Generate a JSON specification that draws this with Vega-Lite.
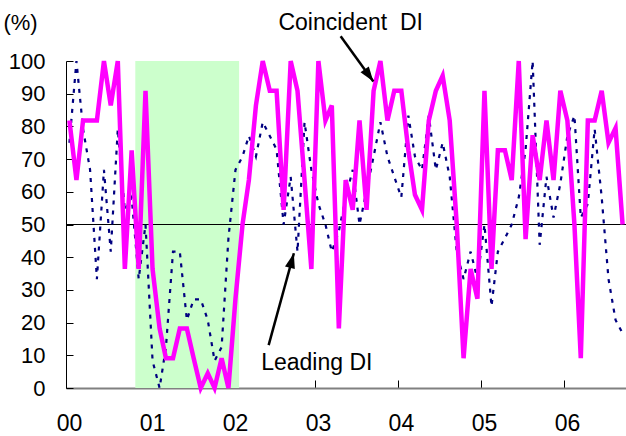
{
  "$schema": "https://vega.github.io/schema/vega-lite/v6.json",
  "width": 560,
  "height": 327,
  "autosize": {"type": "none"},
  "padding": {"left": 66, "top": 61, "right": 0, "bottom": 48},
  "background": "white",
  "config": {
    "view": {"stroke": null},
    "font": "Liberation Sans",
    "axis": {"labelFont": "Liberation Sans", "titleFont": "Liberation Sans", "grid": false}
  },
  "datasets": {
    "recession": [{"start": "2000-11-01", "end": "2002-02-01"}],
    "reference": [{"level": 50}],
    "di": [
      {"month": "2000-01-16", "coincident": 81.8, "leading": 75},
      {"month": "2000-02-16", "coincident": 63.6, "leading": 100},
      {"month": "2000-03-16", "coincident": 81.8, "leading": 79.2},
      {"month": "2000-04-16", "coincident": 81.8, "leading": 66.7},
      {"month": "2000-05-16", "coincident": 81.8, "leading": 33.3},
      {"month": "2000-06-16", "coincident": 100, "leading": 66.7},
      {"month": "2000-07-16", "coincident": 86.4, "leading": 41.7},
      {"month": "2000-08-16", "coincident": 100, "leading": 79.2},
      {"month": "2000-09-16", "coincident": 36.4, "leading": 54.2},
      {"month": "2000-10-16", "coincident": 72.7, "leading": 58.3},
      {"month": "2000-11-16", "coincident": 36.4, "leading": 33.3},
      {"month": "2000-12-16", "coincident": 90.9, "leading": 50},
      {"month": "2001-01-16", "coincident": 36.4, "leading": 8.3},
      {"month": "2001-02-16", "coincident": 18.2, "leading": 0},
      {"month": "2001-03-16", "coincident": 9.1, "leading": 12.5},
      {"month": "2001-04-16", "coincident": 9.1, "leading": 41.7},
      {"month": "2001-05-16", "coincident": 18.2, "leading": 41.7},
      {"month": "2001-06-16", "coincident": 18.2, "leading": 20.8},
      {"month": "2001-07-16", "coincident": 9.1, "leading": 27.1},
      {"month": "2001-08-16", "coincident": 0, "leading": 27.1},
      {"month": "2001-09-16", "coincident": 4.5, "leading": 20.8},
      {"month": "2001-10-16", "coincident": 0, "leading": 8.3},
      {"month": "2001-11-16", "coincident": 9.1, "leading": 12.5},
      {"month": "2001-12-16", "coincident": 0, "leading": 45.8},
      {"month": "2002-01-16", "coincident": 27.3, "leading": 66.7},
      {"month": "2002-02-16", "coincident": 50, "leading": 70.8},
      {"month": "2002-03-16", "coincident": 63.6, "leading": 77.1},
      {"month": "2002-04-16", "coincident": 86.4, "leading": 70.8},
      {"month": "2002-05-16", "coincident": 100, "leading": 81.3},
      {"month": "2002-06-16", "coincident": 90.9, "leading": 77.1},
      {"month": "2002-07-16", "coincident": 90.9, "leading": 72.9},
      {"month": "2002-08-16", "coincident": 54.5, "leading": 50},
      {"month": "2002-09-16", "coincident": 100, "leading": 64.6},
      {"month": "2002-10-16", "coincident": 90.9, "leading": 41.7},
      {"month": "2002-11-16", "coincident": 63.6, "leading": 81.3},
      {"month": "2002-12-16", "coincident": 36.4, "leading": 66.7},
      {"month": "2003-01-16", "coincident": 100, "leading": 56.3},
      {"month": "2003-02-16", "coincident": 81.8, "leading": 50},
      {"month": "2003-03-16", "coincident": 86.4, "leading": 41.7},
      {"month": "2003-04-16", "coincident": 18.2, "leading": 47.9},
      {"month": "2003-05-16", "coincident": 63.6, "leading": 58.3},
      {"month": "2003-06-16", "coincident": 54.5, "leading": 66.7},
      {"month": "2003-07-16", "coincident": 81.8, "leading": 50},
      {"month": "2003-08-16", "coincident": 54.5, "leading": 60.4},
      {"month": "2003-09-16", "coincident": 90.9, "leading": 70.8},
      {"month": "2003-10-16", "coincident": 100, "leading": 81.3},
      {"month": "2003-11-16", "coincident": 81.8, "leading": 70.8},
      {"month": "2003-12-16", "coincident": 90.9, "leading": 64.6},
      {"month": "2004-01-16", "coincident": 90.9, "leading": 58.3},
      {"month": "2004-02-16", "coincident": 72.7, "leading": 83.3},
      {"month": "2004-03-16", "coincident": 59.1, "leading": 70.8},
      {"month": "2004-04-16", "coincident": 54.5, "leading": 66.7},
      {"month": "2004-05-16", "coincident": 81.8, "leading": 83.3},
      {"month": "2004-06-16", "coincident": 90.9, "leading": 66.7},
      {"month": "2004-07-16", "coincident": 95.5, "leading": 75},
      {"month": "2004-08-16", "coincident": 81.8, "leading": 64.6},
      {"month": "2004-09-16", "coincident": 50, "leading": 41.7},
      {"month": "2004-10-16", "coincident": 9.1, "leading": 33.3},
      {"month": "2004-11-16", "coincident": 36.4, "leading": 41.7},
      {"month": "2004-12-16", "coincident": 27.3, "leading": 33.3},
      {"month": "2005-01-16", "coincident": 90.9, "leading": 50},
      {"month": "2005-02-16", "coincident": 36.4, "leading": 25},
      {"month": "2005-03-16", "coincident": 72.7, "leading": 41.7},
      {"month": "2005-04-16", "coincident": 72.7, "leading": 45.8},
      {"month": "2005-05-16", "coincident": 63.6, "leading": 50},
      {"month": "2005-06-16", "coincident": 100, "leading": 58.3},
      {"month": "2005-07-16", "coincident": 45.5, "leading": 72.9},
      {"month": "2005-08-16", "coincident": 77.3, "leading": 100},
      {"month": "2005-09-16", "coincident": 63.6, "leading": 43.8},
      {"month": "2005-10-16", "coincident": 81.8, "leading": 64.6},
      {"month": "2005-11-16", "coincident": 63.6, "leading": 52.1},
      {"month": "2005-12-16", "coincident": 90.9, "leading": 62.5},
      {"month": "2006-01-16", "coincident": 81.8, "leading": 77.1},
      {"month": "2006-02-16", "coincident": 50, "leading": 83.3},
      {"month": "2006-03-16", "coincident": 9.1, "leading": 52.1},
      {"month": "2006-04-16", "coincident": 81.8, "leading": 56.3},
      {"month": "2006-05-16", "coincident": 81.8, "leading": 79.2},
      {"month": "2006-06-16", "coincident": 90.9, "leading": 58.3},
      {"month": "2006-07-16", "coincident": 75, "leading": 33.3},
      {"month": "2006-08-16", "coincident": 79.5, "leading": 20.8},
      {"month": "2006-09-16", "coincident": 50, "leading": 16.7}
    ],
    "labels": [
      {"label": "Coincident\u00a0 DI", "date": "2003-06-07", "value": 109.5},
      {"label": "Leading DI", "date": "2003-01-09", "value": 5.5}
    ],
    "arrows": [
      {"arrow": "coincident", "from_date": "2003-04-24", "from_value": 107.6, "to_date": "2003-09-15", "to_value": 93.7},
      {"arrow": "leading", "from_date": "2002-06-11", "from_value": 13.1, "to_date": "2002-09-30", "to_value": 41.2}
    ]
  },
  "layer": [
    {
      "data": {"name": "recession"},
      "mark": {"type": "rect", "color": "#CCFFCC"},
      "encoding": {
        "x": {
          "field": "start", "type": "temporal",
          "scale": {"type": "utc", "domain": [{"year": 2000, "month": 1, "date": 1, "utc": true}, {"year": 2006, "month": 10, "date": 1, "utc": true}]},
          "axis": {
            "title": null,
            "values": [
              {"year": 2000, "month": 1, "date": 1, "utc": true},
              {"year": 2001, "month": 1, "date": 1, "utc": true},
              {"year": 2002, "month": 1, "date": 1, "utc": true},
              {"year": 2003, "month": 1, "date": 1, "utc": true},
              {"year": 2004, "month": 1, "date": 1, "utc": true},
              {"year": 2005, "month": 1, "date": 1, "utc": true},
              {"year": 2006, "month": 1, "date": 1, "utc": true}
            ],
            "tickCount": 20,
            "format": "%y",
            "labelFontSize": 23,
            "labelColor": "black",
            "labelFlush": false,
            "labelOverlap": false,
            "labelBaseline": "alphabetic",
            "labelPadding": 50,
            "labelOffset": 3,
            "tickSize": -8,
            "tickColor": "black",
            "tickWidth": 1,
            "domainColor": "#808080",
            "domainWidth": 2
          }
        },
        "x2": {"field": "end"}
      }
    },
    {
      "data": {"name": "reference"},
      "mark": {"type": "rule", "color": "black", "strokeWidth": 1},
      "encoding": {
        "y": {
          "field": "level", "type": "quantitative",
          "scale": {"domain": [0, 100]},
          "axis": {
            "values": [0, 10, 20, 30, 40, 50, 60, 70, 80, 90, 100],
            "tickCount": 20,
            "labelFontSize": 22,
            "labelColor": "black",
            "labelOverlap": false,
            "labelFlush": false,
            "labelPadding": 28,
            "tickSize": -7,
            "tickColor": "black",
            "domainColor": "black",
            "domainWidth": 1,
            "title": "(%)",
            "titleAngle": 0,
            "titleFontSize": 22,
            "titleFontWeight": "normal",
            "titleColor": "black",
            "titleX": -46,
            "titleY": -32,
            "titleAlign": "center",
            "titleBaseline": "alphabetic"
          }
        }
      }
    },
    {
      "data": {"name": "di"},
      "mark": {"type": "line", "color": "#000080", "strokeWidth": 2.2, "strokeDash": [4, 6]},
      "encoding": {
        "x": {"field": "month", "type": "temporal", "scale": {"type": "utc", "domain": [{"year": 2000, "month": 1, "date": 1, "utc": true}, {"year": 2006, "month": 10, "date": 1, "utc": true}]}},
        "y": {"field": "leading", "type": "quantitative", "scale": {"domain": [0, 100]}}
      }
    },
    {
      "data": {"name": "di"},
      "mark": {"type": "line", "color": "#FF00FF", "strokeWidth": 4.5},
      "encoding": {
        "x": {"field": "month", "type": "temporal", "scale": {"type": "utc", "domain": [{"year": 2000, "month": 1, "date": 1, "utc": true}, {"year": 2006, "month": 10, "date": 1, "utc": true}]}},
        "y": {"field": "coincident", "type": "quantitative", "scale": {"domain": [0, 100]}}
      }
    },
    {
      "data": {"name": "labels"},
      "mark": {"type": "text", "fontSize": 23, "align": "center", "baseline": "alphabetic", "color": "black", "font": "Liberation Sans"},
      "encoding": {
        "x": {"field": "date", "type": "temporal", "scale": {"type": "utc", "domain": [{"year": 2000, "month": 1, "date": 1, "utc": true}, {"year": 2006, "month": 10, "date": 1, "utc": true}]}},
        "y": {"field": "value", "type": "quantitative", "scale": {"domain": [0, 100]}},
        "text": {"field": "label"}
      }
    },
    {
      "data": {"name": "arrows"},
      "mark": {"type": "rule", "color": "black", "strokeWidth": 2.5},
      "encoding": {
        "x": {"field": "from_date", "type": "temporal", "scale": {"type": "utc", "domain": [{"year": 2000, "month": 1, "date": 1, "utc": true}, {"year": 2006, "month": 10, "date": 1, "utc": true}]}},
        "x2": {"field": "to_date"},
        "y": {"field": "from_value", "type": "quantitative", "scale": {"domain": [0, 100]}},
        "y2": {"field": "to_value"}
      }
    },
    {
      "data": {"name": "arrows"},
      "transform": [{"filter": "datum.arrow === 'coincident'"}],
      "mark": {"type": "point", "shape": "M0,0L0.34,1L-0.34,1Z", "size": 900, "filled": true, "color": "black", "opacity": 1, "angle": 144.5},
      "encoding": {
        "x": {"field": "to_date", "type": "temporal", "scale": {"type": "utc", "domain": [{"year": 2000, "month": 1, "date": 1, "utc": true}, {"year": 2006, "month": 10, "date": 1, "utc": true}]}},
        "y": {"field": "to_value", "type": "quantitative", "scale": {"domain": [0, 100]}}
      }
    },
    {
      "data": {"name": "arrows"},
      "transform": [{"filter": "datum.arrow === 'leading'"}],
      "mark": {"type": "point", "shape": "M0,0L0.34,1L-0.34,1Z", "size": 900, "filled": true, "color": "black", "opacity": 1, "angle": 15.2},
      "encoding": {
        "x": {"field": "to_date", "type": "temporal", "scale": {"type": "utc", "domain": [{"year": 2000, "month": 1, "date": 1, "utc": true}, {"year": 2006, "month": 10, "date": 1, "utc": true}]}},
        "y": {"field": "to_value", "type": "quantitative", "scale": {"domain": [0, 100]}}
      }
    }
  ]
}
